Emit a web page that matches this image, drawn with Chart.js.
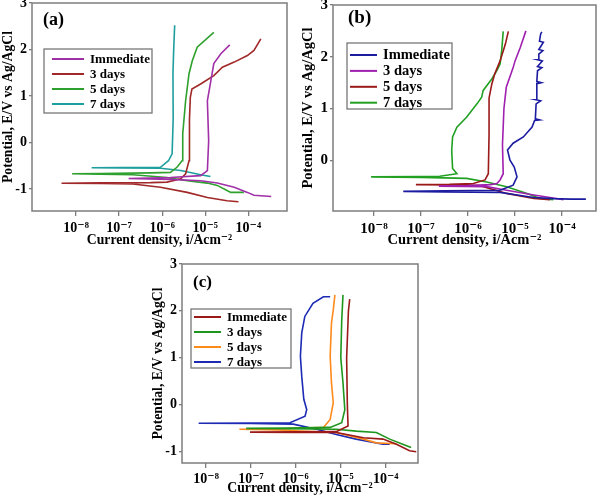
<!doctype html>
<html>
<head>
<meta charset="utf-8" />
<title>Potentiodynamic polarization curves (a), (b), (c)</title>
<style>
  body { margin:0; background:#fff; }
  canvas { position:absolute; }
</style>
<script src="https://cdn.jsdelivr.net/npm/chart.js"></script>
</head>
<body>
<canvas id="chartA" width="300" height="250" style="left:0;top:0"></canvas>
<canvas id="chartB" width="300" height="250" style="left:300px;top:0"></canvas>
<canvas id="chartC" width="300" height="247" style="left:150px;top:250px"></canvas>
<script>
// ---- data: current density (A/cm2) and potential (V vs Ag/AgCl) ----
const seriesLabels = ['Immediate', '3 days', '5 days', '7 days'];
const decadeTicks = [1e-8, 1e-7, 1e-6, 1e-5, 1e-4];
const decadeLabels = ['10⁻⁸', '10⁻⁷', '10⁻⁶', '10⁻⁵', '10⁻⁴'];
const potentialTicks = [-1, 0, 1, 2, 3];
const potentialTicksB = [0, 1, 2, 3];

// panel (a)
const aImmediateI = [3.4e-4, 1.35e-4, 9.5e-5, 4.7e-5, 1.9e-5, 7.8e-6, 1.55e-6, 1.66e-7, 1.55e-6, 7.8e-6, 1.12e-5, 1.2e-5, 1.12e-5, 1.35e-5, 1.58e-5, 2.3e-5, 3.7e-5];
const aImmediateE = [-1.16, -1.13, -1.07, -0.96, -0.87, -0.82, -0.79, -0.77, -0.75, -0.71, -0.60, 0.04, 0.90, 1.33, 1.70, 1.91, 2.10];
const aDay3I = [5.9e-5, 3.2e-5, 1.12e-5, 3.8e-6, 9.1e-7, 2.1e-7, 3.7e-8, 4.6e-9, 3.7e-8, 5.4e-7, 1.3e-6, 2.7e-6, 3.5e-6, 4.2e-6, 4.3e-6, 4.5e-6, 4.9e-6, 7.8e-6, 1.58e-5, 2.5e-5, 4.7e-5, 9.5e-5, 1.35e-4, 1.95e-4];
const aDay3E = [-1.27, -1.25, -1.18, -1.07, -0.96, -0.89, -0.88, -0.875, -0.865, -0.86, -0.85, -0.78, -0.67, -0.39, 0.5, 0.97, 1.15, 1.26, 1.44, 1.62, 1.73, 1.87, 1.98, 2.23];
const aDay5I = [7.9e-5, 3.9e-5, 3.2e-5, 1.9e-5, 1.12e-5, 3.8e-6, 1.3e-6, 2.1e-7, 3.7e-8, 8.1e-9, 3.7e-8, 5.4e-7, 1.55e-6, 2.2e-6, 2.9e-6, 3.0e-6, 3.5e-6, 4.2e-6, 5.0e-6, 6.5e-6, 1.58e-5];
const aDay5E = [-1.07, -1.07, -1.03, -0.92, -0.87, -0.82, -0.75, -0.69, -0.68, -0.67, -0.665, -0.65, -0.64, -0.53, -0.39, 0.19, 0.90, 1.48, 1.76, 2.05, 2.37];
const aDay7I = [1.32e-5, 7.8e-6, 5.4e-6, 2.7e-6, 9.1e-7, 1.07e-7, 2.3e-8, 1.07e-7, 9.1e-7, 1.4e-6, 1.7e-6, 1.8e-6, 1.78e-6, 1.85e-6, 1.95e-6];
const aDay7E = [-0.73, -0.69, -0.66, -0.60, -0.55, -0.545, -0.54, -0.535, -0.53, -0.39, -0.24, 0.5, 1.5, 2.0, 2.52];

// panel (b)
const bImmediateI = [3.2e-4, 1.5e-4, 6.5e-5, 2.5e-5, 1.1e-5, 4.8e-6, 3.2e-7, 4.2e-8, 3.2e-7, 4.8e-6, 9.1e-6, 1.1e-5, 9.6e-6, 7.8e-6, 6.9e-6, 9.1e-6, 1.5e-5, 2.3e-5, 2.6e-5, 3.3e-5, 2.7e-5, 2.8e-5, 3.5e-5, 2.8e-5, 2.9e-5, 3.6e-5, 2.9e-5, 3.0e-5, 3.7e-5, 3.0e-5, 3.8e-5, 3.1e-5, 3.2e-5, 3.9e-5, 3.2e-5, 4.0e-5, 3.3e-5, 3.5e-5, 3.7e-5];
const bImmediateE = [-0.75, -0.75, -0.74, -0.72, -0.67, -0.62, -0.61, -0.60, -0.59, -0.58, -0.48, -0.32, -0.13, 0.0, 0.2, 0.33, 0.45, 0.64, 0.77, 0.78, 0.80, 1.09, 1.15, 1.17, 1.48, 1.50, 1.52, 1.73, 1.79, 1.81, 1.92, 1.94, 2.05, 2.12, 2.14, 2.28, 2.30, 2.44, 2.48];
const bDay3I = [1.07e-4, 5.5e-5, 2.5e-5, 6.6e-6, 2.5e-6, 8e-7, 2.4e-7, 1.0e-6, 3.0e-6, 4.1e-6, 4.8e-6, 5.6e-6, 5.4e-6, 5.8e-6, 6.5e-6, 9.1e-6, 1.0e-5, 1.29e-5, 1.7e-5];
const bDay3E = [-0.76, -0.72, -0.67, -0.58, -0.51, -0.505, -0.50, -0.49, -0.47, -0.45, -0.38, -0.26, 0.3, 1.0, 1.41, 1.79, 1.92, 2.18, 2.5];
const bDay5I = [5.5e-5, 2.5e-5, 6.6e-6, 1.8e-6, 4.0e-7, 7.8e-8, 4.0e-7, 1.3e-6, 2.3e-6, 2.7e-6, 2.8e-6, 2.8e-6, 3.2e-6, 3.7e-6, 4.8e-6, 6.2e-6, 7.2e-6];
const bDay5E = [-0.76, -0.74, -0.64, -0.49, -0.475, -0.47, -0.465, -0.45, -0.38, -0.26, 0.5, 1.2, 1.47, 1.67, 1.92, 2.24, 2.49];
const bDay7I = [6.5e-5, 3.4e-5, 1.8e-5, 6.6e-6, 2.5e-6, 9.3e-7, 1.0e-7, 8.7e-9, 1.0e-7, 2.5e-7, 5.8e-7, 4.7e-7, 4.5e-7, 4.7e-7, 5.8e-7, 9.3e-7, 1.55e-6, 1.95e-6, 2.1e-6, 3.2e-6, 4.1e-6, 4.8e-6, 5.2e-6, 5.6e-6];
const bDay7E = [-0.76, -0.74, -0.64, -0.51, -0.42, -0.35, -0.33, -0.32, -0.315, -0.31, -0.26, -0.16, 0.19, 0.45, 0.64, 0.83, 1.09, 1.22, 1.35, 1.57, 1.73, 1.86, 2.12, 2.49];

// panel (c)
const cImmediateI = [4.8e-4, 3.4e-4, 1.74e-4, 8.7e-5, 3.2e-5, 7.9e-6, 1.0e-6, 9.5e-8, 1.0e-6, 7.9e-6, 1.45e-5, 1.4e-5, 1.35e-5, 1.48e-5, 1.58e-5];
const cImmediateE = [-1.01, -0.99, -0.85, -0.74, -0.71, -0.60, -0.595, -0.59, -0.585, -0.58, -0.46, 0.0, 1.0, 2.0, 2.25];
const cDay3I = [3.7e-4, 2.4e-4, 1.23e-4, 6.2e-5, 2.2e-5, 7.9e-6, 6.3e-7, 7.8e-8, 6.3e-7, 5.8e-6, 1.05e-5, 1.23e-5, 1.12e-5, 1.0e-5, 1.05e-5, 1.12e-5];
const cDay3E = [-0.92, -0.85, -0.74, -0.60, -0.57, -0.53, -0.515, -0.51, -0.505, -0.49, -0.39, -0.11, 0.46, 1.0, 1.8, 2.34];
const cDay5I = [1.74e-4, 6.2e-5, 3.2e-5, 7.9e-6, 4.0e-7, 5.5e-8, 4.0e-7, 4.1e-6, 5.8e-6, 6.8e-6, 6.2e-6, 5.8e-6, 6.2e-6, 6.8e-6, 7.4e-6];
const cDay5E = [-0.84, -0.82, -0.74, -0.60, -0.545, -0.53, -0.525, -0.49, -0.32, 0.04, 0.46, 1.03, 1.74, 2.02, 2.34];
const cDay7I = [1.23e-4, 8.7e-5, 2.2e-5, 7.9e-6, 2.9e-6, 8.7e-7, 1.0e-7, 6.8e-9, 1.0e-7, 7.4e-7, 1.6e-6, 1.74e-6, 1.5e-6, 1.35e-6, 1.26e-6, 1.35e-6, 1.58e-6, 2.4e-6, 4.1e-6, 5.8e-6];
const cDay7E = [-0.85, -0.85, -0.74, -0.64, -0.53, -0.42, -0.405, -0.40, -0.395, -0.39, -0.25, -0.11, 0.11, 0.60, 1.03, 1.53, 1.88, 2.16, 2.30, 2.30];

const SERIF = '"Liberation Serif", "DejaVu Serif", serif';

// frame, panel tag and in-plot legend
const panelDecor = {
  id: 'panelDecor',
  afterDraw(chart, args, o) {
    const ctx = chart.ctx, a = chart.chartArea;
    ctx.save();
    ctx.strokeStyle = '#7d7d7d';
    ctx.lineWidth = 1.5;
    ctx.strokeRect(a.left, a.top, a.right - a.left, a.bottom - a.top);

    ctx.fillStyle = '#000';
    ctx.font = 'bold ' + o.tagSize + 'px ' + SERIF;
    ctx.textBaseline = 'middle';
    ctx.textAlign = 'left';
    ctx.fillText(o.tag, o.tagX, o.tagY);

    const L = o.legend;
    ctx.fillStyle = '#fff';
    ctx.fillRect(L.x, L.y, L.w, L.h);
    ctx.strokeStyle = '#777';
    ctx.lineWidth = 1.3;
    ctx.strokeRect(L.x, L.y, L.w, L.h);
    ctx.font = 'bold ' + L.size + 'px ' + SERIF;
    chart.data.datasets.forEach((ds, k) => {
      const y = L.y + L.first + k * L.step;
      ctx.strokeStyle = ds.borderColor;
      ctx.lineWidth = 2;
      ctx.beginPath();
      ctx.moveTo(L.x + L.line0, y);
      ctx.lineTo(L.x + L.line1, y);
      ctx.stroke();
      ctx.fillStyle = '#000';
      ctx.fillText(ds.label, L.x + L.text, y + 0.5);
    });
    ctx.restore();
  }
};

function makePanel(id, p) {
  const canvas = document.getElementById(id);
  const W = canvas.width, H = canvas.height;
  const tickFont = { family: SERIF, size: p.tickSize, weight: 'bold' };
  const titleFont = { family: SERIF, size: p.titleSize, weight: 'bold' };
  return new Chart(canvas, {
    type: 'scatter',
    data: {
      datasets: p.series.map((s, k) => ({
        label: seriesLabels[k],
        data: s.i.map((v, j) => ({ x: v, y: s.e[j] })),
        showLine: true,
        borderColor: s.color,
        backgroundColor: s.color,
        borderWidth: 1.6,
        pointRadius: 0,
        tension: 0
      }))
    },
    options: {
      responsive: false,
      animation: false,
      events: [],
      layout: { padding: { left: 0, top: p.box.t, right: W - p.box.r, bottom: 0 } },
      plugins: {
        legend: { display: false },
        tooltip: { enabled: false },
        panelDecor: p.decor
      },
      scales: {
        x: {
          type: 'logarithmic',
          min: p.xMin,
          max: p.xMax,
          afterBuildTicks: s => { s.ticks = decadeTicks.map(v => ({ value: v })); },
          afterFit: s => { s.height = H - p.box.b; s.paddingLeft = 0; s.paddingRight = 0; },
          border: { display: false },
          grid: { drawOnChartArea: false, drawTicks: true, tickLength: 5, color: '#7d7d7d', lineWidth: 1.3 },
          ticks: {
            color: '#000', font: tickFont, padding: p.xTickPad, maxRotation: 0, autoSkip: false,
            callback: v => decadeLabels[decadeTicks.findIndex(d => Math.abs(d - v) < d * 1e-6)]
          },
          title: { display: true, text: 'Current density, i/Acm⁻²', color: '#000', font: titleFont, padding: { top: 0, bottom: p.xTitlePad } }
        },
        y: {
          min: p.yMin,
          max: p.yMax,
          afterBuildTicks: s => { s.ticks = p.yTicks.map(v => ({ value: v })); },
          afterFit: s => { s.width = p.box.l; s.paddingTop = 0; s.paddingBottom = 0; },
          border: { display: false },
          grid: { drawOnChartArea: false, drawTicks: true, tickLength: 3, color: '#7d7d7d', lineWidth: 1.3 },
          ticks: { color: '#000', font: tickFont, padding: 2, callback: v => String(v) },
          title: { display: true, text: 'Potential, E/V vs Ag/AgCl', color: '#000', font: titleFont, padding: { top: 0, bottom: 0 } }
        }
      }
    },
    plugins: [panelDecor]
  });
}

makePanel('chartA', {
  box: { l: 32, t: 3, r: 287, b: 211 },
  xMin: 9.5e-10, xMax: 7.9e-4, yMin: -1.47, yMax: 3, yTicks: potentialTicks,
  tickSize: 14, titleSize: 13.7, xTickPad: 4, xTitlePad: 1,
  series: [
    { i: aImmediateI, e: aImmediateE, color: '#a030a8' },
    { i: aDay3I, e: aDay3E, color: '#a02828' },
    { i: aDay5I, e: aDay5E, color: '#2ea02e' },
    { i: aDay7I, e: aDay7E, color: '#1f9e9e' }
  ],
  decor: {
    tag: '(a)', tagSize: 18, tagX: 43, tagY: 20,
    legend: { x: 44, y: 49, w: 108, h: 64, first: 10, step: 15, line0: 8, line1: 40, text: 46, size: 13 }
  }
});

makePanel('chartB', {
  box: { l: 33, t: 5, r: 296, b: 211 },
  xMin: 1.35e-9, xMax: 5.25e-4, yMin: -0.98, yMax: 3, yTicks: potentialTicksB,
  tickSize: 15, titleSize: 14.5, xTickPad: 4, xTitlePad: 1,
  series: [
    { i: bImmediateI, e: bImmediateE, color: '#1c1ca0' },
    { i: bDay3I, e: bDay3E, color: '#a020b0' },
    { i: bDay5I, e: bDay5E, color: '#9a1a1a' },
    { i: bDay7I, e: bDay7E, color: '#22a022' }
  ],
  decor: {
    tag: '(b)', tagSize: 19, tagX: 48, tagY: 18,
    legend: { x: 47, y: 43, w: 105, h: 66, first: 12, step: 15.9, line0: 3, line1: 30, text: 36, size: 14.5 }
  }
});

makePanel('chartC', {
  box: { l: 32, t: 14, r: 268, b: 213 },
  xMin: 2.9e-9, xMax: 5.25e-4, yMin: -1.25, yMax: 3, yTicks: potentialTicks,
  tickSize: 14, titleSize: 13.7, xTickPad: 3, xTitlePad: 0,
  series: [
    { i: cImmediateI, e: cImmediateE, color: '#9a1a1a' },
    { i: cDay3I, e: cDay3E, color: '#1e961e' },
    { i: cDay5I, e: cDay5E, color: '#ff8a1c' },
    { i: cDay7I, e: cDay7E, color: '#1c2ab4' }
  ],
  decor: {
    tag: '(c)', tagSize: 17, tagX: 43, tagY: 33,
    legend: { x: 41, y: 59, w: 100, h: 59, first: 8, step: 15, line0: 3, line1: 30, text: 36, size: 13 }
  }
});
</script>
</body>
</html>
